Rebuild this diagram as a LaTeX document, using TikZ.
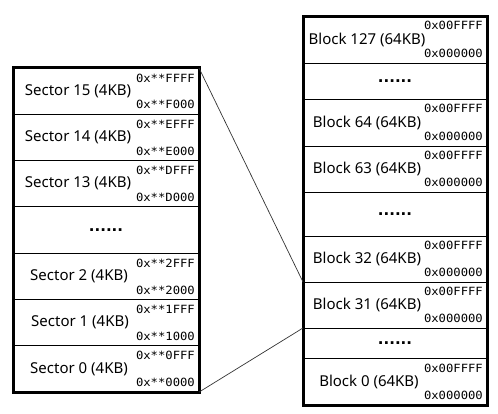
\documentclass[tikz,border=0pt]{standalone}
\usepackage{fontspec}
\setmainfont{Noto Sans}
\newfontfamily\addrfont{DejaVu Sans Mono}[FakeStretch=1.08]
\newfontfamily\dotsfont{DejaVu Sans}

\tikzset{
  sectorrow/.style={draw, line width=0.8pt, rectangle, inner sep=0pt, outer sep=0pt,
    minimum width=186pt, minimum height=46.3pt},
  blockrow/.style={draw, line width=0.8pt, rectangle, inner sep=0pt, outer sep=0pt,
    minimum width=184pt, minimum height=#1},
  rowlabel/.style={inner sep=0pt, font=\fontsize{15}{15}\selectfont},
  dotslabel/.style={inner sep=0pt, font=\dotsfont\bfseries\fontsize{15}{15}\selectfont},
  addr/.style={inner sep=0pt, anchor=east, font=\addrfont\fontsize{11.3}{11.3}\selectfont},
  boxframe/.style={line width=3pt},
  link/.style={draw=black!80, line width=0.7pt}
}

\begin{document}
\begin{tikzpicture}[x=1pt,y=-1pt]
\useasboundingbox (0,0) rectangle (498,414);

% sectors of one block
\node [sectorrow] (s15) at (106,91.15) {};
\node [sectorrow] (s14) at (106,137.45) {};
\node [sectorrow] (s13) at (106,183.75) {};
\node [sectorrow] (sd)  at (106,230.05) {};
\node [sectorrow] (s2)  at (106,276.35) {};
\node [sectorrow] (s1)  at (106,322.65) {};
\node [sectorrow] (s0)  at (106,368.95) {};
\draw [boxframe] (s15.north west) rectangle (s0.south east);

\node [rowlabel] (s15t) at ([xshift=-28pt]s15.center) {Sector 15 (4KB)};
\node [rowlabel] (s14t) at ([xshift=-28pt]s14.center) {Sector 14 (4KB)};
\node [rowlabel] (s13t) at ([xshift=-28pt]s13.center) {Sector 13 (4KB)};
\node [dotslabel] (sdt) at (sd.center) {......};
\node [rowlabel] (s2t) at ([xshift=-27pt]s2.center) {Sector 2 (4KB)};
\node [rowlabel] (s1t) at ([xshift=-26pt]s1.center) {Sector 1 (4KB)};
\node [rowlabel] (s0t) at ([xshift=-27pt]s0.center) {Sector 0 (4KB)};

\node [addr] (s15h) at ([shift={(-4,10)}]s15.north east) {0x**FFFF};
\node [addr] (s15l) at ([shift={(-4,-9.5)}]s15.south east) {0x**F000};
\node [addr] (s14h) at ([shift={(-4,10)}]s14.north east) {0x**EFFF};
\node [addr] (s14l) at ([shift={(-4,-9.5)}]s14.south east) {0x**E000};
\node [addr] (s13h) at ([shift={(-4,10)}]s13.north east) {0x**DFFF};
\node [addr] (s13l) at ([shift={(-4,-9.5)}]s13.south east) {0x**D000};
\node [addr] (s2h) at ([shift={(-4,10)}]s2.north east) {0x**2FFF};
\node [addr] (s2l) at ([shift={(-4,-9.5)}]s2.south east) {0x**2000};
\node [addr] (s1h) at ([shift={(-4,10)}]s1.north east) {0x**1FFF};
\node [addr] (s1l) at ([shift={(-4,-9.5)}]s1.south east) {0x**1000};
\node [addr] (s0h) at ([shift={(-4,10)}]s0.north east) {0x**0FFF};
\node [addr] (s0l) at ([shift={(-4,-9.5)}]s0.south east) {0x**0000};

% blocks of the whole chip
\node [blockrow=46pt] (b127) at (395,40) {};
\node [blockrow=36pt] (bd1)  at (395,81) {};
\node [blockrow=47pt] (b64)  at (395,122.5) {};
\node [blockrow=46pt] (b63)  at (395,169) {};
\node [blockrow=44pt] (bd2)  at (395,214) {};
\node [blockrow=46pt] (b32)  at (395,259) {};
\node [blockrow=46pt] (b31)  at (395,305) {};
\node [blockrow=30pt] (bd3)  at (395,343) {};
\node [blockrow=47pt] (b0)   at (395,381.5) {};
\draw [boxframe] (b127.north west) rectangle (b0.south east);

\node [rowlabel] (b127t) at ([xshift=-28pt]b127.center) {Block 127 (64KB)};
\node [dotslabel] (bd1t) at (bd1.center) {......};
\node [rowlabel] (b64t) at ([xshift=-28pt]b64.center) {Block 64 (64KB)};
\node [rowlabel] (b63t) at ([xshift=-28pt]b63.center) {Block 63 (64KB)};
\node [dotslabel] (bd2t) at (bd2.center) {......};
\node [rowlabel] (b32t) at ([xshift=-28pt]b32.center) {Block 32 (64KB)};
\node [rowlabel] (b31t) at ([xshift=-28pt]b31.center) {Block 31 (64KB)};
\node [dotslabel] (bd3t) at (bd3.center) {......};
\node [rowlabel] (b0t) at ([xshift=-26pt]b0.center) {Block 0 (64KB)};

\node [addr] (b127h) at ([shift={(-4,8)}]b127.north east) {0x00FFFF};
\node [addr] (b127l) at ([shift={(-4,-9.5)}]b127.south east) {0x000000};
\node [addr] (b64h) at ([shift={(-4,9)}]b64.north east) {0x00FFFF};
\node [addr] (b64l) at ([shift={(-4,-9.5)}]b64.south east) {0x000000};
\node [addr] (b63h) at ([shift={(-4,9)}]b63.north east) {0x00FFFF};
\node [addr] (b63l) at ([shift={(-4,-9.5)}]b63.south east) {0x000000};
\node [addr] (b32h) at ([shift={(-4,9)}]b32.north east) {0x00FFFF};
\node [addr] (b32l) at ([shift={(-4,-9.5)}]b32.south east) {0x000000};
\node [addr] (b31h) at ([shift={(-4,9)}]b31.north east) {0x00FFFF};
\node [addr] (b31l) at ([shift={(-4,-9.5)}]b31.south east) {0x000000};
\node [addr] (b0h) at ([shift={(-4,10)}]b0.north east) {0x00FFFF};
\node [addr] (b0l) at ([shift={(-4,-10)}]b0.south east) {0x000000};

% sector box is block 31 opened up
\draw [link] (s15.north east) -- (b31.north west);
\draw [link] (s0.south east) -- (b31.south west);

\end{tikzpicture}
\end{document}
